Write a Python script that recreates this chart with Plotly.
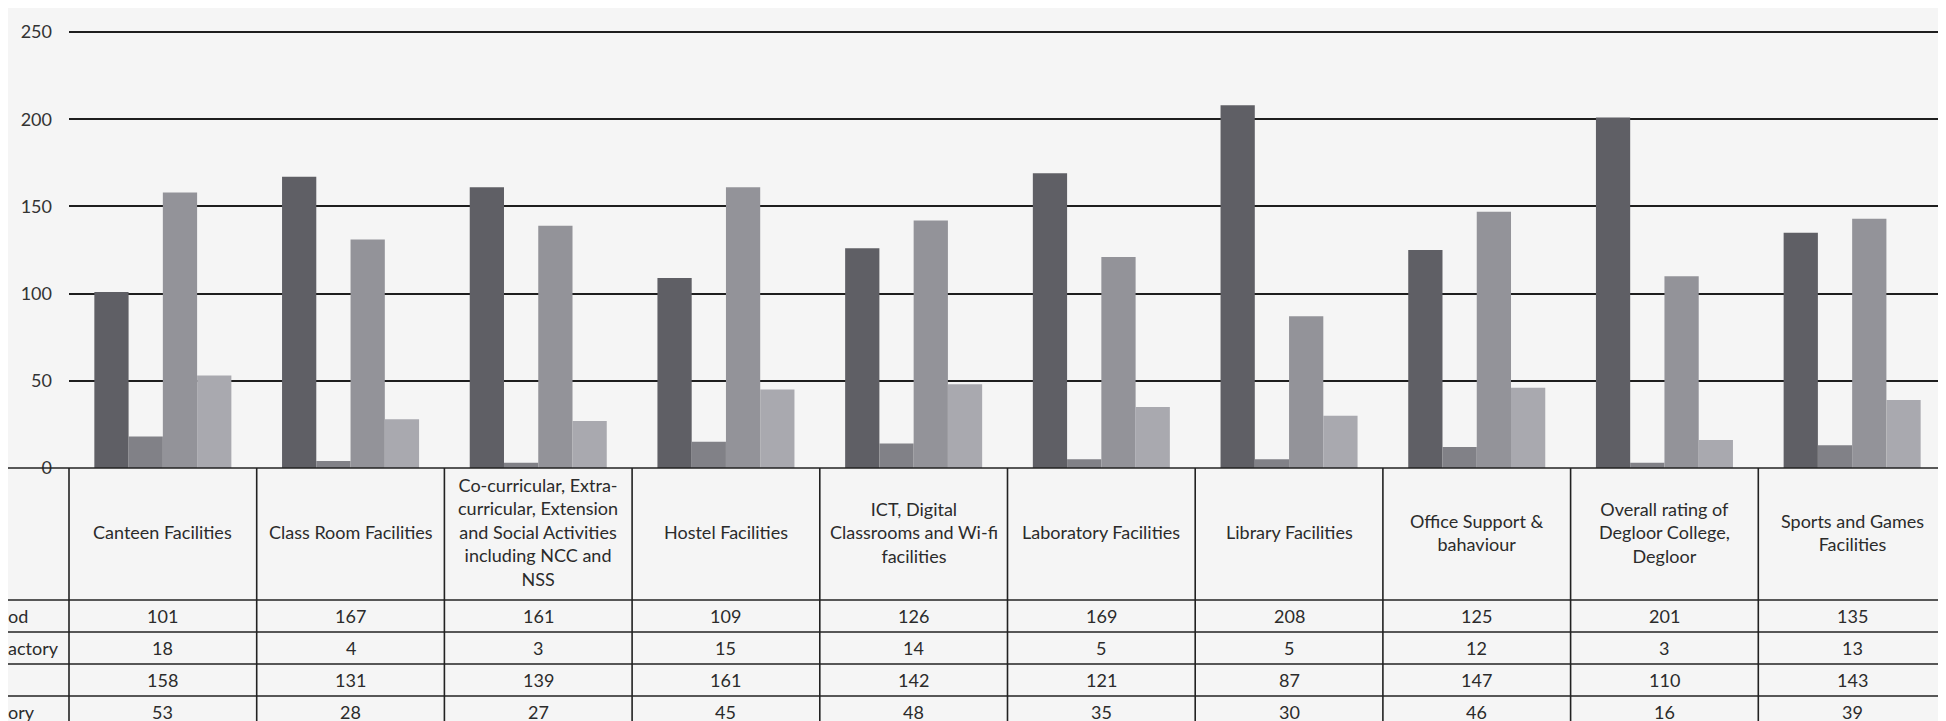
import plotly.graph_objects as go

categories = [
    "Canteen Facilities",
    "Class Room Facilities",
    "Co-curricular, Extra-<br>curricular, Extension<br>and Social Activities<br>including NCC and<br>NSS",
    "Hostel Facilities",
    "ICT, Digital<br>Classrooms and Wi-fi<br>facilities",
    "Laboratory Facilities",
    "Library Facilities",
    "Office Support &<br>bahaviour",
    "Overall rating of<br>Degloor College,<br>Degloor",
    "Sports and Games<br>Facilities",
]
# row labels as visible in the scan (left part cut off by the page edge)
row_labels = ["od", "actory", "", "ory"]
good = [101, 167, 161, 109, 126, 169, 208, 125, 201, 135]
unsatisfactory = [18, 4, 3, 15, 14, 5, 5, 12, 3, 13]
excellent = [158, 131, 139, 161, 142, 121, 87, 147, 110, 143]
satisfactory = [53, 28, 27, 45, 48, 35, 30, 46, 16, 39]
series_values = [good, unsatisfactory, excellent, satisfactory]
y_ticks = [0, 50, 100, 150, 200, 250]

colors = ["#5f5f65", "#818187", "#939399", "#a9a9af"]

W, H = 1946, 721
L, R, T, B = 61, 8, 21, 261
pw = W - L - R
ph = H - T - B
YMAX = 251.8
FONT = "Lato"
TXT = "#2b2b2b"


def px(x):
    return (x - L) / pw


def py(y):
    return (H - B - y) / ph


fig = go.Figure()
for name, vals, c in zip(["Good", "Unsatisfactory", "Excellent", "Satisfactory"], series_values, colors):
    fig.add_trace(go.Bar(
        x=list(range(len(categories))), y=vals, name=name,
        marker=dict(color=c, line=dict(width=0)),
    ))

shapes = []
annotations = []
n = len(categories)
table_top = H - B
row_lines = [table_top, 592, 624, 656, 688, 719]
for yl in row_lines:
    shapes.append(dict(type="line", xref="paper", yref="paper",
                       x0=px(-20), x1=1.0, y0=py(yl), y1=py(yl),
                       line=dict(color="#222", width=1.6)))
for k in range(n + 1):
    shapes.append(dict(type="line", xref="paper", yref="paper",
                       x0=k / n, x1=k / n, y0=py(table_top), y1=py(row_lines[-1]),
                       line=dict(color="#222", width=1.6)))

for k, cat in enumerate(categories):
    annotations.append(dict(xref="paper", yref="paper", x=(k + 0.5) / n,
                            y=py(524), text=cat, showarrow=False,
                            font=dict(family=FONT, size=18, color=TXT),
                            align="center", xanchor="center", yanchor="middle"))
for r, vals in enumerate(series_values):
    yc = (row_lines[r + 1] + row_lines[r + 2]) / 2
    for k, v in enumerate(vals):
        annotations.append(dict(xref="paper", yref="paper", x=(k + 0.5) / n,
                                y=py(yc), text=str(v), showarrow=False,
                                font=dict(family=FONT, size=18, color=TXT),
                                xanchor="center", yanchor="middle"))
for r, lab in enumerate(row_labels):
    if not lab:
        continue
    yc = (row_lines[r + 1] + row_lines[r + 2]) / 2
    annotations.append(dict(xref="paper", yref="paper", x=px(-1),
                            y=py(yc), text=lab, showarrow=False,
                            font=dict(family=FONT, size=18, color=TXT),
                            xanchor="left", yanchor="middle", borderpad=0))

fig.update_layout(
    width=W, height=H,
    margin=dict(l=L, r=R, t=T, b=B),
    paper_bgcolor="#f5f5f5", plot_bgcolor="#f5f5f5",
    barmode="group", bargap=0.27, bargroupgap=0,
    showlegend=False,
    shapes=shapes, annotations=annotations,
    xaxis=dict(range=[-0.5, n - 0.5], showticklabels=False, showgrid=False,
               zeroline=False, showline=False, ticks=""),
    yaxis=dict(range=[0, YMAX], tickvals=y_ticks, showgrid=True,
               gridcolor="#1e1e1e", gridwidth=1.6, zeroline=False,
               showline=False, ticks="", ticklabelstandoff=16,
               tickfont=dict(family=FONT, size=18, color="#333")),
    font=dict(family=FONT),
)

fig.write_html("out.html")
